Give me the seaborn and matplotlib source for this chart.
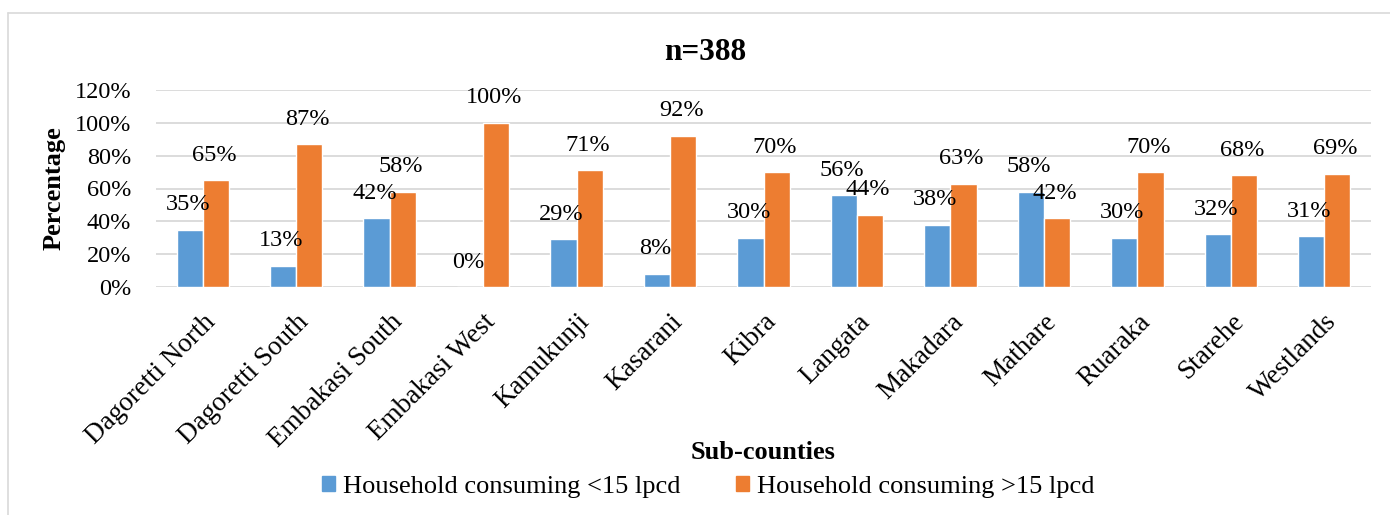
import matplotlib
matplotlib.use("Agg")
import matplotlib.pyplot as plt
from matplotlib.lines import Line2D
import seaborn as sns
import pandas as pd

sub_counties = ["Dagoretti North", "Dagoretti South", "Embakasi South", "Embakasi West",
                "Kamukunji", "Kasarani", "Kibra", "Langata", "Makadara", "Mathare",
                "Ruaraka", "Starehe", "Westlands"]
below_15 = [35, 13, 42, 0, 29, 8, 30, 56, 38, 58, 30, 32, 31]
above_15 = [65, 87, 58, 100, 71, 92, 70, 44, 63, 42, 70, 68, 69]
series_names = ["Household consuming <15 lpcd", "Household consuming >15 lpcd"]
y_ticks = [0, 20, 40, 60, 80, 100, 120]

df = pd.DataFrame({
    "Sub-county": sub_counties * 2,
    "Series": [series_names[0]] * len(sub_counties) + [series_names[1]] * len(sub_counties),
    "Value": [v / 100 for v in below_15 + above_15],
})

sns.set_theme(style="white")
plt.rcParams["font.family"] = ["Liberation Serif", "DejaVu Serif"]
plt.rcParams["text.color"] = "black"
plt.rcParams["axes.labelcolor"] = "black"
plt.rcParams["xtick.color"] = "black"
plt.rcParams["ytick.color"] = "black"

W, H = 1390, 515
fig = plt.figure(figsize=(W / 100, H / 100), dpi=100)
ax = fig.add_axes([156 / W, 1 - 287 / H, (1371 - 156) / W, (287 - 90) / H])

sns.barplot(data=df, x="Sub-county", y="Value", hue="Series",
            palette=["#5B9BD5", "#ED7D31"], width=0.56, gap=0,
            saturation=1, ax=ax, legend=False)

for container in ax.containers:
    for bar in container:
        h = bar.get_height()
        ax.annotate(f"{round(h * 100):.0f}%",
                    (bar.get_x() + bar.get_width() / 2 - 0.02, h),
                    xytext=(0, 25), textcoords="offset pixels",
                    ha="center", va="center", fontsize=17.5, color="black")

ax.set_ylim(0, 1.2)
ax.set_yticks([t / 100 for t in y_ticks])
ax.set_yticklabels([f"{t}%" for t in y_ticks], fontsize=17.5)
ax.set_xlim(-0.5, len(sub_counties) - 0.5)
ax.tick_params(axis="x", labelsize=19.5, length=0, pad=16)
ax.tick_params(axis="y", length=0, pad=18)
for lbl in ax.get_xticklabels():
    lbl.set_rotation(45)
    lbl.set_ha("right")
    lbl.set_rotation_mode("anchor")

ax.yaxis.grid(True, color="#D9D9D9", linewidth=1.3)
ax.set_axisbelow(True)
for s in ax.spines.values():
    s.set_visible(False)

ax.set_ylabel("Percentage", fontsize=19, fontweight="bold", labelpad=6)
ax.set_xlabel("Sub-counties", fontsize=19, fontweight="bold")
ax.xaxis.set_label_coords(0.5, (287 - 452) / (287 - 90))
ax.xaxis.label.set_va("center")

fig.text(705 / W, 1 - 52 / H, "n=388", fontsize=22.5, fontweight="bold",
         ha="center", va="center")

handles = [plt.Rectangle((0, 0), 1, 1, color=c) for c in ["#5B9BD5", "#ED7D31"]]
fig.legend(handles, series_names, loc="center", bbox_to_anchor=(708 / W, 1 - 487 / H),
           ncol=2, frameon=False, fontsize=19, handlelength=0.5, handleheight=0.5,
           handletextpad=0.3, columnspacing=2.1, borderaxespad=0, borderpad=0)

# light outer frame
fig.add_artist(Line2D([8 / W, 8 / W], [0, 1 - 13 / H], color="#D9D9D9", lw=1.2))
fig.add_artist(Line2D([8 / W, 1], [1 - 13 / H, 1 - 13 / H], color="#D9D9D9", lw=1.2))

fig.savefig("out.png", dpi=100, facecolor="white")
